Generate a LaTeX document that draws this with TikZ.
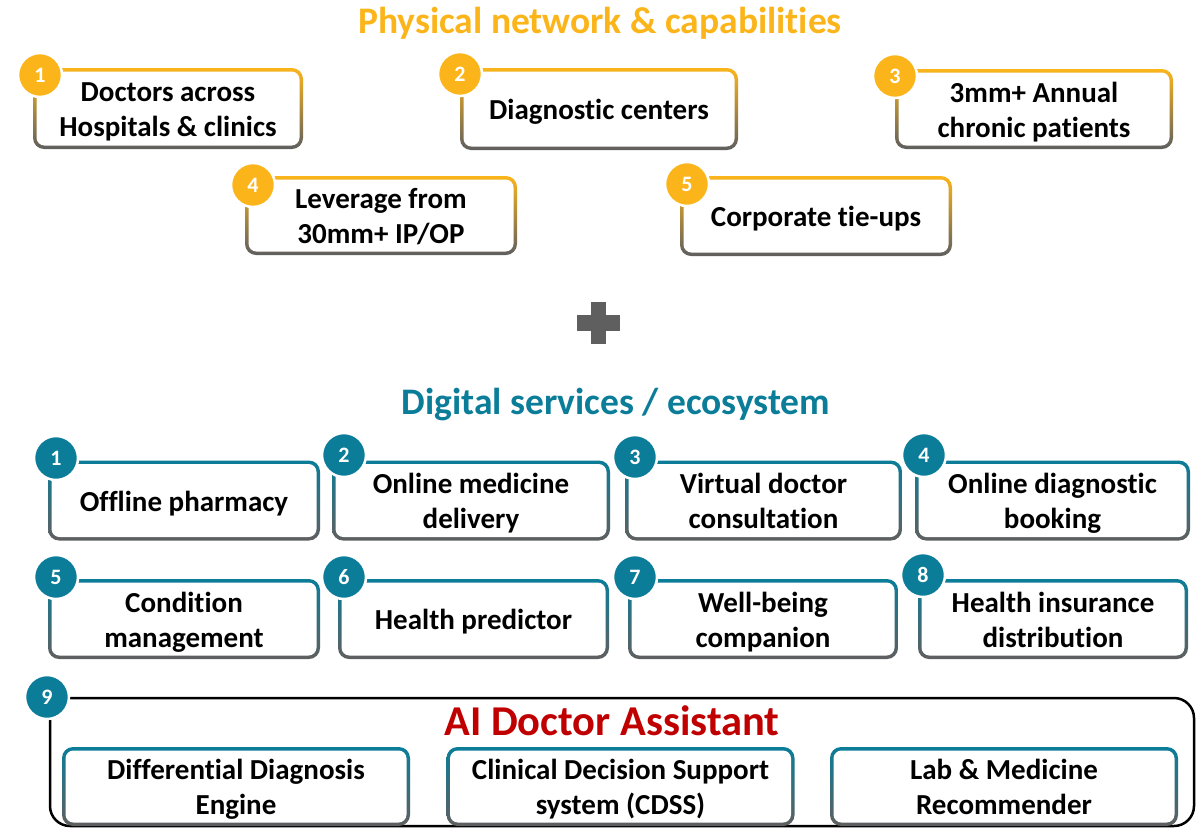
\documentclass[tikz,border=0pt]{standalone}
\usepackage{fontspec}
\setmainfont{Carlito}[Ligatures=NoCommon]
\usetikzlibrary{positioning,calc}
\definecolor{physcol}{HTML}{FBB51B}
\definecolor{digcol}{HTML}{0B7D99}
\definecolor{aicol}{HTML}{C00000}
\definecolor{edgecol}{HTML}{5F5F5F}
\newcommand\bst{\rule[-6.5pt]{0pt}{34pt}}
\tikzset{
  gbox/.style={rectangle, rounded corners=11pt, inner sep=0pt, bottom color=edgecol, align=center,
    font=\bfseries\fontsize{29}{35}\selectfont,
    path picture={\fill[white,rounded corners=8pt]
      ($(path picture bounding box.south west)+(3.5pt,3.5pt)$) rectangle
      ($(path picture bounding box.north east)-(3.5pt,3.5pt)$);}},
  physbox/.style={gbox, top color=physcol},
  digbox/.style={gbox, top color=digcol},
  numc/.style={circle, draw=white, line width=2.5pt, minimum size=44pt, inner sep=0pt,
    text=white, font=\bfseries\fontsize{22}{22}\selectfont},
  title/.style={font=\bfseries\fontsize{37.5}{44}\selectfont}
}
\begin{document}
\begin{tikzpicture}[x=1pt,y=-1pt]
  \useasboundingbox (0,0) rectangle (1201,828);
  \node[title,text=physcol] (phys) at (600,23) {Physical network \& capabilities};
  \foreach \n/\x/\y/\w/\h/\cx/\cy/\t in {1/168/108.5/270/81/40/75/{Doctors across\\Hospitals \& clinics},
      2/599/109/278/82/460/74/{Diagnostic centers},3/1034/109/278/80/895/76/{3mm+ Annual\\chronic patients},
      4/381/215.5/272/79/253/185/{Leverage from\\30mm+ IP/OP},5/816/216/272/80/687/184/{Corporate tie-ups}}{
    \node[physbox,minimum width=\w pt,minimum height=\h pt] (p\n) at (\x,\y) {\bst\t\bst};
    \node[numc,fill=physcol] (pc\n) at (\cx,\cy) {\n};
  }
  % plus sign
  \fill[edgecol] (591,302) rectangle (606,344);
  \fill[edgecol] (577,315) rectangle (620,331);
  \node[title,text=digcol] (dig) at (616,405) {Digital services / ecosystem};
  \foreach \n/\x/\y/\w/\cx/\cy/\t in {1/184/500.5/272/56/458/{Offline pharmacy},
      2/471/500.5/278/344/455/{Online medicine\\delivery},
      3/763.5/500.5/277/635/457/{Virtual doctor\\consultation},4/1052.5/500.5/275/924/455/{Online diagnostic\\booking},
      5/184/619/272/56/577/{Condition\\management},6/473.5/619/271/344/577/{Health predictor},
      7/763/619/270/635/577/{Well-being\\companion},8/1053/619/270/923/575/{Health insurance\\distribution}}{
    \node[digbox,minimum width=\w pt,minimum height=80pt] (d\n) at (\x,\y) {\bst\t\bst};
    \node[numc,fill=digcol] (dc\n) at (\cx,\cy) {\n};
  }
  \node[draw=black,line width=2.5pt,rounded corners=20pt,minimum width=1144pt,minimum height=128pt]
    (ai) at (622,762) {};
  \node[numc,fill=digcol] (dc9) at (47,697) {9};
  \node[title,text=aicol,font=\bfseries\fontsize{42.5}{48}\selectfont] (aititle) at (612,721) {AI Doctor Assistant};
  \foreach \n/\x/\t in {a/236/{Differential Diagnosis\\Engine},b/620.5/{Clinical Decision Support\\system (CDSS)},
      c/1004/{Lab \& Medicine\\Recommender}}{
    \node[digbox,minimum width=348pt,minimum height=79pt] (ai\n) at (\x,786.5) {\bst\t\bst};
  }
\end{tikzpicture}
\end{document}
